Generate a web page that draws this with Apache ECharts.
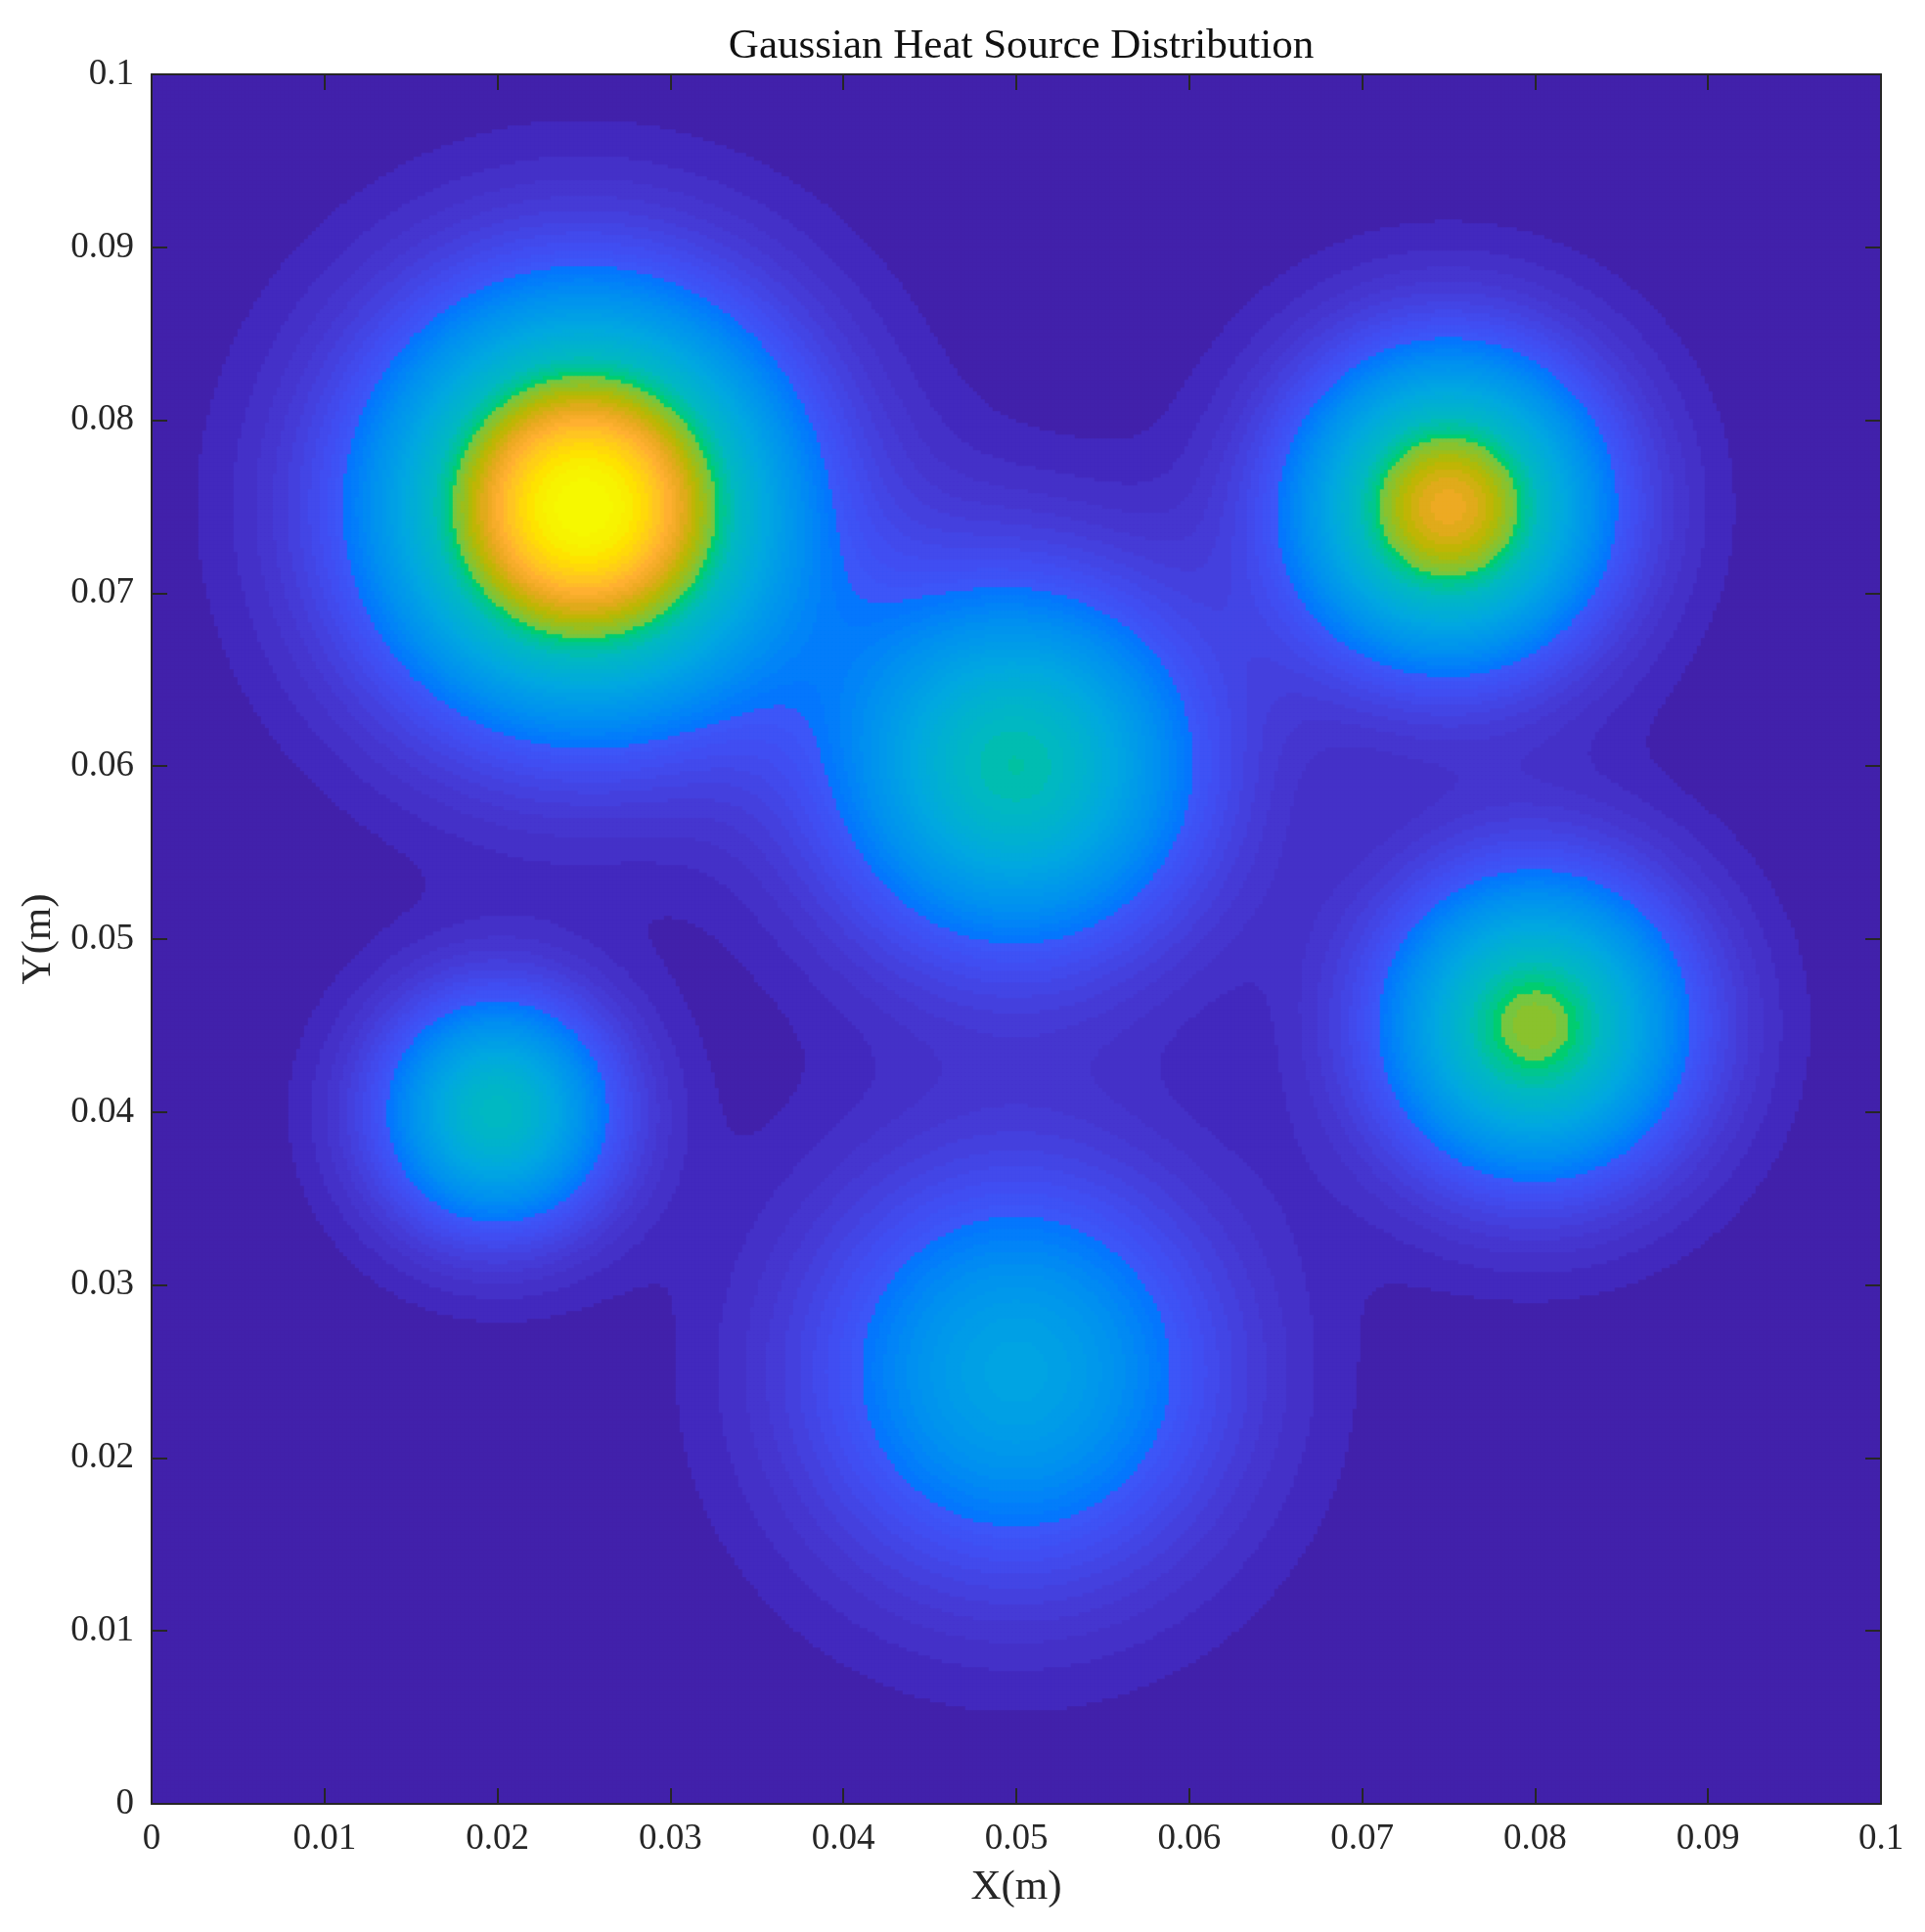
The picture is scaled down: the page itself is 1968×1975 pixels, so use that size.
<!DOCTYPE html>
<html>
<head>
<meta charset="utf-8">
<title>Gaussian Heat Source Distribution</title>
<script src="https://cdn.jsdelivr.net/npm/echarts@6/dist/echarts.min.js"></script>
<style>
  html, body { margin: 0; padding: 0; background: #fff; }
  #chart { width: 1968px; height: 1975px; }
</style>
</head>
<body>
<div id="chart"></div>
<script>
// heat sources (metres, relative strength, spread)
var sourceX = [0.025, 0.075, 0.050, 0.020, 0.080, 0.050];
var sourceY = [0.075, 0.075, 0.060, 0.040, 0.045, 0.025];
var sourceAmp = [1.00, 0.79, 0.58, 0.55, 0.675, 0.41];
var sourceSigma = [0.0080, 0.0061, 0.0073, 0.0047, 0.0060, 0.0080];

var axisTicks = [0, 0.01, 0.02, 0.03, 0.04, 0.05, 0.06, 0.07, 0.08, 0.09, 0.1];

// colour map (value 0..1 -> colour)
var cmapStops = [
  [0.00, '#4020A8'], [0.015, '#4121AC'], [0.03, '#4229BE'], [0.05, '#4431C8'],
  [0.08, '#4538D2'], [0.12, '#4443E2'], [0.17, '#404EF2'], [0.2199, '#3C58FA'],
  [0.22, '#0574FF'], [0.31, '#0090F0'], [0.43, '#00A8E0'], [0.55, '#00B8C2'],
  [0.61, '#00C690'], [0.6399, '#00D060'], [0.64, '#6EC848'], [0.72, '#B8B800'],
  [0.78, '#E8A820'], [0.83, '#FFB030'], [0.875, '#FFC820'], [0.925, '#FFE000'],
  [0.955, '#F8F000'], [1.00, '#F5FA00']
];

var N = 442;
var step = 0.1 / N;
var font = 'Liberation Serif';
var ink = '#262626';

function hexRgb(h) {
  return [parseInt(h.substr(1, 2), 16), parseInt(h.substr(3, 2), 16), parseInt(h.substr(5, 2), 16)];
}
function cmap(v) {
  if (v <= cmapStops[0][0]) return cmapStops[0][1];
  for (var k = 1; k < cmapStops.length; k++) {
    if (v <= cmapStops[k][0]) {
      var a = cmapStops[k - 1], b = cmapStops[k];
      var t = (v - a[0]) / (b[0] - a[0]);
      var ca = hexRgb(a[1]), cb = hexRgb(b[1]);
      return 'rgb(' + Math.round(ca[0] + (cb[0] - ca[0]) * t) + ',' +
        Math.round(ca[1] + (cb[1] - ca[1]) * t) + ',' +
        Math.round(ca[2] + (cb[2] - ca[2]) * t) + ')';
    }
  }
  return cmapStops[cmapStops.length - 1][1];
}

var xCells = [], yCells = [];
for (var i = 0; i < N; i++) { xCells.push(i); yCells.push(i); }

var field = [];
for (var j = 0; j < N; j++) {
  var y = (j + 0.5) * step;
  for (var i2 = 0; i2 < N; i2++) {
    var x = (i2 + 0.5) * step;
    var v = 0;
    for (var s = 0; s < sourceX.length; s++) {
      var dx = x - sourceX[s], dy = y - sourceY[s];
      v += sourceAmp[s] * Math.exp(-(dx * dx + dy * dy) / (2 * sourceSigma[s] * sourceSigma[s]));
    }
    field.push([i2, j, v]);
  }
}

// filled contour levels
var levelStep = 0.02;
var pieces = [];
for (var k = 0; k < 50; k++) {
  var p = { gte: k * levelStep, color: cmap((k + 0.5) * levelStep) };
  if (k < 49) p.lt = (k + 1) * levelStep;
  pieces.push(p);
}

var gridBox = { left: 155, top: 76, width: 1768, height: 1768 };

function valueAxis(pos, withLabel) {
  return {
    type: 'value',
    gridIndex: 1,
    position: pos,
    min: 0,
    max: 0.1,
    interval: 0.01,
    z: 10,
    axisLine: { show: true, onZero: false, lineStyle: { color: ink, width: 2 } },
    axisTick: { show: true, inside: true, length: 16, lineStyle: { color: ink, width: 2 } },
    axisLabel: {
      show: withLabel,
      margin: 18,
      fontFamily: font,
      fontSize: 37,
      color: ink,
      showMinLabel: true,
      showMaxLabel: true,
      formatter: function (val) { return String(+val.toFixed(3)); }
    },
    splitLine: { show: false }
  };
}

var xBottom = valueAxis('bottom', true);
xBottom.name = 'X(m)';
xBottom.nameLocation = 'middle';
xBottom.nameGap = 64;
xBottom.nameTextStyle = { fontFamily: font, fontSize: 43, color: ink };

var yLeft = valueAxis('left', true);
yLeft.name = 'Y(m)';
yLeft.nameLocation = 'middle';
yLeft.nameGap = 92;
yLeft.nameTextStyle = { fontFamily: font, fontSize: 43, color: ink };

var chart = echarts.init(document.getElementById('chart'));
chart.setOption({
  animation: false,
  backgroundColor: '#ffffff',
  title: {
    text: 'Gaussian Heat Source Distribution',
    left: 1039,
    top: 21,
    textAlign: 'center',
    textStyle: { fontFamily: font, fontSize: 43, fontWeight: 'normal', color: '#111' }
  },
  grid: [
    Object.assign({}, gridBox),
    Object.assign({}, gridBox)
  ],
  xAxis: [
    { type: 'category', gridIndex: 0, data: xCells, show: false },
    xBottom,
    valueAxis('top', false)
  ],
  yAxis: [
    { type: 'category', gridIndex: 0, data: yCells, show: false },
    yLeft,
    valueAxis('right', false)
  ],
  visualMap: {
    type: 'piecewise',
    show: false,
    seriesIndex: 0,
    dimension: 2,
    pieces: pieces
  },
  series: [
    {
      type: 'heatmap',
      xAxisIndex: 0,
      yAxisIndex: 0,
      data: field,
      progressive: 0,
      emphasis: { disabled: true }
    },
    {
      type: 'scatter',
      xAxisIndex: 1,
      yAxisIndex: 1,
      data: []
    }
  ]
});
</script>
</body>
</html>
